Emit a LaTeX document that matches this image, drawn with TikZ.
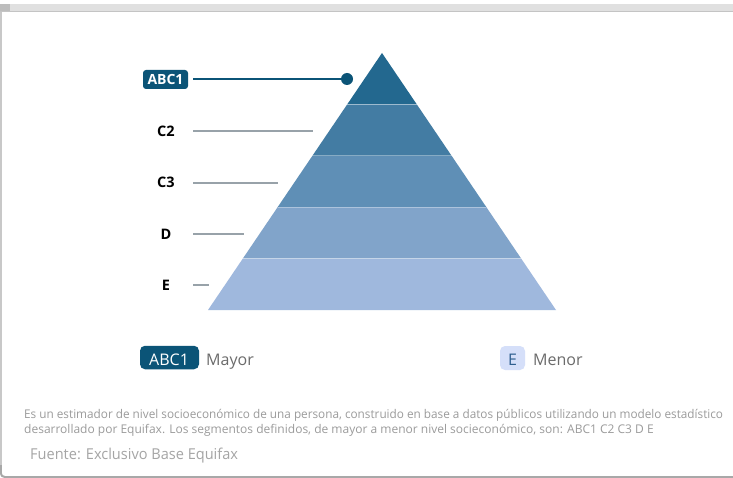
\documentclass[tikz,border=0pt]{standalone}
\usepackage{fontspec}
\setmainfont{Open Sans}
\definecolor{navy}{HTML}{0B5477}
\definecolor{bandA}{HTML}{23688F}
\definecolor{bandB}{HTML}{437CA3}
\definecolor{bandC}{HTML}{5F8FB6}
\definecolor{bandD}{HTML}{81A4CA}
\definecolor{bandE}{HTML}{9FB8DD}
\definecolor{leadgray}{HTML}{98A2A9}
\definecolor{legtext}{HTML}{6B6B6B}
\definecolor{notegray}{HTML}{9B9B9B}
\definecolor{pillE}{HTML}{D5DFF9}
\definecolor{pillEtext}{HTML}{2E5F8F}
\definecolor{topband}{HTML}{E0E0E0}
\definecolor{topedge}{HTML}{C4C4C4}
\definecolor{corner}{HTML}{BDBDBD}
\definecolor{frame}{HTML}{C8C8C8}
\definecolor{frameb}{HTML}{A8A8A8}
\tikzset{
  lvl/.style={font=\fontsize{14.5}{14.5}\selectfont\bfseries, text=black, inner sep=0pt},
  lead/.style={draw=leadgray, line width=2pt},
  leadtop/.style={draw=navy, line width=2pt},
  legtxt/.style={font=\fontsize{16}{16}\selectfont, text=legtext, inner sep=0pt, anchor=base west},
  note/.style={font=\fontsize{12}{12}\selectfont, text=notegray, inner sep=0pt, anchor=base west},
  sep/.style={draw=white, draw opacity=0.35, line width=0.8pt}
}
\begin{document}
\begin{tikzpicture}[x=1pt,y=-1pt]
\useasboundingbox (0,0) rectangle (733,478);
% frame
\fill[white] (0,0) rectangle (733,478);
\fill[topband] (0,4) rectangle (733,11);
\fill[corner] (0,4) rectangle (10,11);
\draw[topedge, line width=1.2pt] (0,11.6) -- (733,11.6);
\draw[frame, line width=1.5pt] (0.75,12.2) -- (0.75,470);
\draw[frameb, line width=2pt, rounded corners=4pt] (0.75,465) -- (0.75,477) -- (733,477);
% pyramid
\coordinate (apex) at (382,53);
\foreach \i/\c in {0/bandA,1/bandB,2/bandC,3/bandD,4/bandE}{
  \pgfmathsetmacro{\ya}{53+51.4*\i}
  \pgfmathsetmacro{\yb}{53+51.4*(\i+1)}
  \pgfmathsetmacro{\wa}{(\ya-53)/257*174}
  \pgfmathsetmacro{\wb}{(\yb-53)/257*174}
  \fill[\c] (382-\wa,\ya) -- (382+\wa,\ya) -- (382+\wb,\yb) -- (382-\wb,\yb) -- cycle;
}
\foreach \i in {1,2,3,4}{
  \pgfmathsetmacro{\ya}{53+51.4*\i}
  \pgfmathsetmacro{\wa}{(\ya-53)/257*174}
  \draw[sep] (382-\wa,\ya) -- (382+\wa,\ya);
}
% level labels
\node[fill=navy, rounded corners=3pt, minimum width=45pt, minimum height=19pt, inner sep=0pt,
      font=\fontsize{14}{14}\selectfont\bfseries, text=white] (abc) at (165.5,79.5) {ABC1};
\node[lvl] (c2) at (166,131) {C2};
\node[lvl] (c3) at (166,182.5) {C3};
\node[lvl] (d) at (166,234) {D};
\node[lvl] (e) at (166,285) {E};
\coordinate (s1) at (193,79); \coordinate (t1) at (347,79);
\coordinate (s2) at (193,130.7); \coordinate (t2) at (313,130.7);
\coordinate (s3) at (193,182.7); \coordinate (t3) at (278,182.7);
\coordinate (s4) at (193,233.7); \coordinate (t4) at (244,233.7);
\coordinate (s5) at (193,285); \coordinate (t5) at (209,285);
\draw[leadtop] (s1) -- (t1);
\fill[navy] (t1) circle (6);
\draw[lead] (s2) -- (t2);
\draw[lead] (s3) -- (t3);
\draw[lead] (s4) -- (t4);
\draw[lead] (s5) -- (t5);
% legend
\node[fill=navy, rounded corners=5pt, minimum width=59pt, minimum height=23.5pt, inner sep=0pt] (legA) at (169.5,357.5) {};
\node[legtxt, text=white] (legAt) at ([xshift=-20.5pt]legA.center |- 0,365) {ABC1};
\node[legtxt] (mayor) at (206,365) {Mayor};
\node[fill=pillE, rounded corners=5pt, minimum width=25pt, minimum height=24pt, inner sep=0pt] (legE) at (512.5,358) {};
\node[legtxt, anchor=base, text=pillEtext] (legEt) at (legE.center |- 0,365) {E};
\node[legtxt] (menor) at (533,365) {Menor};
% notes
\node[note] (n1) at (24,418) {\scalebox{0.98}[1]{Es un estimador de nivel socioeconómico de una persona, construido en base a datos públicos utilizando un modelo estadístico}};
\node[note] (n2) at (24,433.3) {desarrollado por Equifax. Los segmentos definidos, de mayor a menor nivel socieconómico, son: ABC1 C2 C3 D E};
\node[note, font=\fontsize{15}{15}\selectfont, text=notegray!90] (src) at (30,459.3) {\scalebox{0.97}[1]{Fuente: Exclusivo Base Equifax}};
\end{tikzpicture}
\end{document}
